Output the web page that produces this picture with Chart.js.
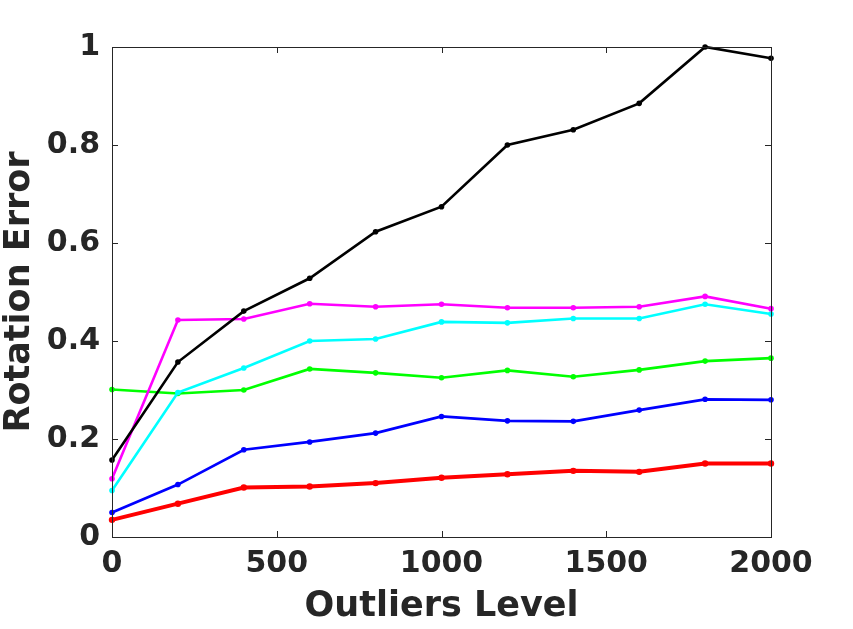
<!DOCTYPE html>
<html>
<head>
<meta charset="utf-8">
<script src="https://cdn.jsdelivr.net/npm/chart.js@4"></script>
<style>
  html, body { margin: 0; padding: 0; background: #fff; }
  #wrap { width: 853px; height: 629px; }
</style>
</head>
<body>
<div id="wrap"><canvas id="rot"></canvas></div>
<script>
// outlier levels on the x axis
const outliers = [0, 200, 400, 600, 800, 1000, 1200, 1400, 1600, 1800, 2000];

// rotation error per method
const blackErr   = [0.157, 0.357, 0.461, 0.528, 0.623, 0.674, 0.800, 0.831, 0.885, 1.000, 0.977];
const magentaErr = [0.119, 0.443, 0.445, 0.476, 0.470, 0.475, 0.468, 0.468, 0.470, 0.491, 0.466];
const cyanErr    = [0.095, 0.295, 0.345, 0.400, 0.404, 0.439, 0.437, 0.446, 0.446, 0.475, 0.455];
const greenErr   = [0.301, 0.293, 0.300, 0.343, 0.335, 0.325, 0.340, 0.327, 0.341, 0.359, 0.365];
const blueErr    = [0.050, 0.107, 0.178, 0.194, 0.212, 0.246, 0.237, 0.236, 0.259, 0.281, 0.280];
const redErr     = [0.035, 0.068, 0.101, 0.103, 0.110, 0.121, 0.128, 0.135, 0.133, 0.150, 0.150];

const xTicks = [0, 500, 1000, 1500, 2000];
const yTicks = [0, 0.2, 0.4, 0.6, 0.8, 1];

const axisColor = '#262626';

function series(values, color, width) {
  return {
    data: outliers.map((x, i) => ({ x: x, y: values[i] })),
    borderColor: color,
    backgroundColor: color,
    borderWidth: width,
    pointRadius: width > 3 ? 3.2 : 2.8,
    pointBorderWidth: 0,
    pointBackgroundColor: color,
    tension: 0,
    clip: 10
  };
}

// matlab style box with inward ticks on all four sides
const boxPlugin = {
  id: 'box',
  afterDatasetsDraw(chart) {
    const { ctx, chartArea: a, scales } = chart;
    const len = 6;
    ctx.save();
    ctx.strokeStyle = axisColor;
    ctx.lineWidth = 1;
    ctx.strokeRect(a.left + 0.5, a.top + 0.5, a.right - a.left, a.bottom - a.top);
    ctx.beginPath();
    xTicks.forEach(v => {
      const px = Math.round(scales.x.getPixelForValue(v)) + 0.5;
      ctx.moveTo(px, a.bottom); ctx.lineTo(px, a.bottom - len);
      ctx.moveTo(px, a.top); ctx.lineTo(px, a.top + len);
    });
    yTicks.forEach(v => {
      const py = Math.round(scales.y.getPixelForValue(v)) + 0.5;
      ctx.moveTo(a.left, py); ctx.lineTo(a.left + len, py);
      ctx.moveTo(a.right, py); ctx.lineTo(a.right - len, py);
    });
    ctx.stroke();
    ctx.restore();
  }
};

new Chart(document.getElementById('rot'), {
  type: 'line',
  data: {
    datasets: [
      series(blackErr, '#000000', 2.6),
      series(magentaErr, '#ff00ff', 2.6),
      series(cyanErr, '#00ffff', 2.6),
      series(greenErr, '#00ff00', 2.6),
      series(blueErr, '#0000ff', 2.7),
      series(redErr, '#ff0000', 4)
    ]
  },
  options: {
    responsive: true,
    maintainAspectRatio: false,
    animation: false,
    layout: { padding: { left: 0, right: 82, top: 47, bottom: 0 } },
    plugins: { legend: { display: false }, tooltip: { enabled: false } },
    scales: {
      x: {
        type: 'linear',
        min: 0,
        max: 2000,
        grid: { display: false, drawTicks: false },
        border: { display: false },
        afterBuildTicks: s => { s.ticks = xTicks.map(v => ({ value: v })); },
        afterFit: s => { s.height = 92; },
        ticks: {
          color: axisColor,
          padding: 9,
          maxRotation: 0,
          callback: v => String(v),
          font: { family: 'DejaVu Sans', weight: 'bold', size: 30 }
        },
        title: {
          display: true,
          text: 'Outliers Level',
          color: axisColor,
          padding: { top: 0, bottom: 1 },
          font: { family: 'DejaVu Sans', weight: 'bold', size: 35, lineHeight: 1.2 }
        }
      },
      y: {
        type: 'linear',
        min: 0,
        max: 1,
        grid: { display: false, drawTicks: false },
        border: { display: false },
        afterBuildTicks: s => { s.ticks = yTicks.map(v => ({ value: v })); },
        afterFit: s => { s.width = 112; },
        ticks: {
          color: axisColor,
          padding: 12,
          callback: v => String(v),
          font: { family: 'DejaVu Sans', weight: 'bold', size: 30 }
        },
        title: {
          display: true,
          text: 'Rotation Error',
          color: axisColor,
          padding: { top: 0, bottom: 0 },
          font: { family: 'DejaVu Sans', weight: 'bold', size: 35, lineHeight: 1.15 }
        }
      }
    }
  },
  plugins: [boxPlugin]
});
</script>
</body>
</html>
